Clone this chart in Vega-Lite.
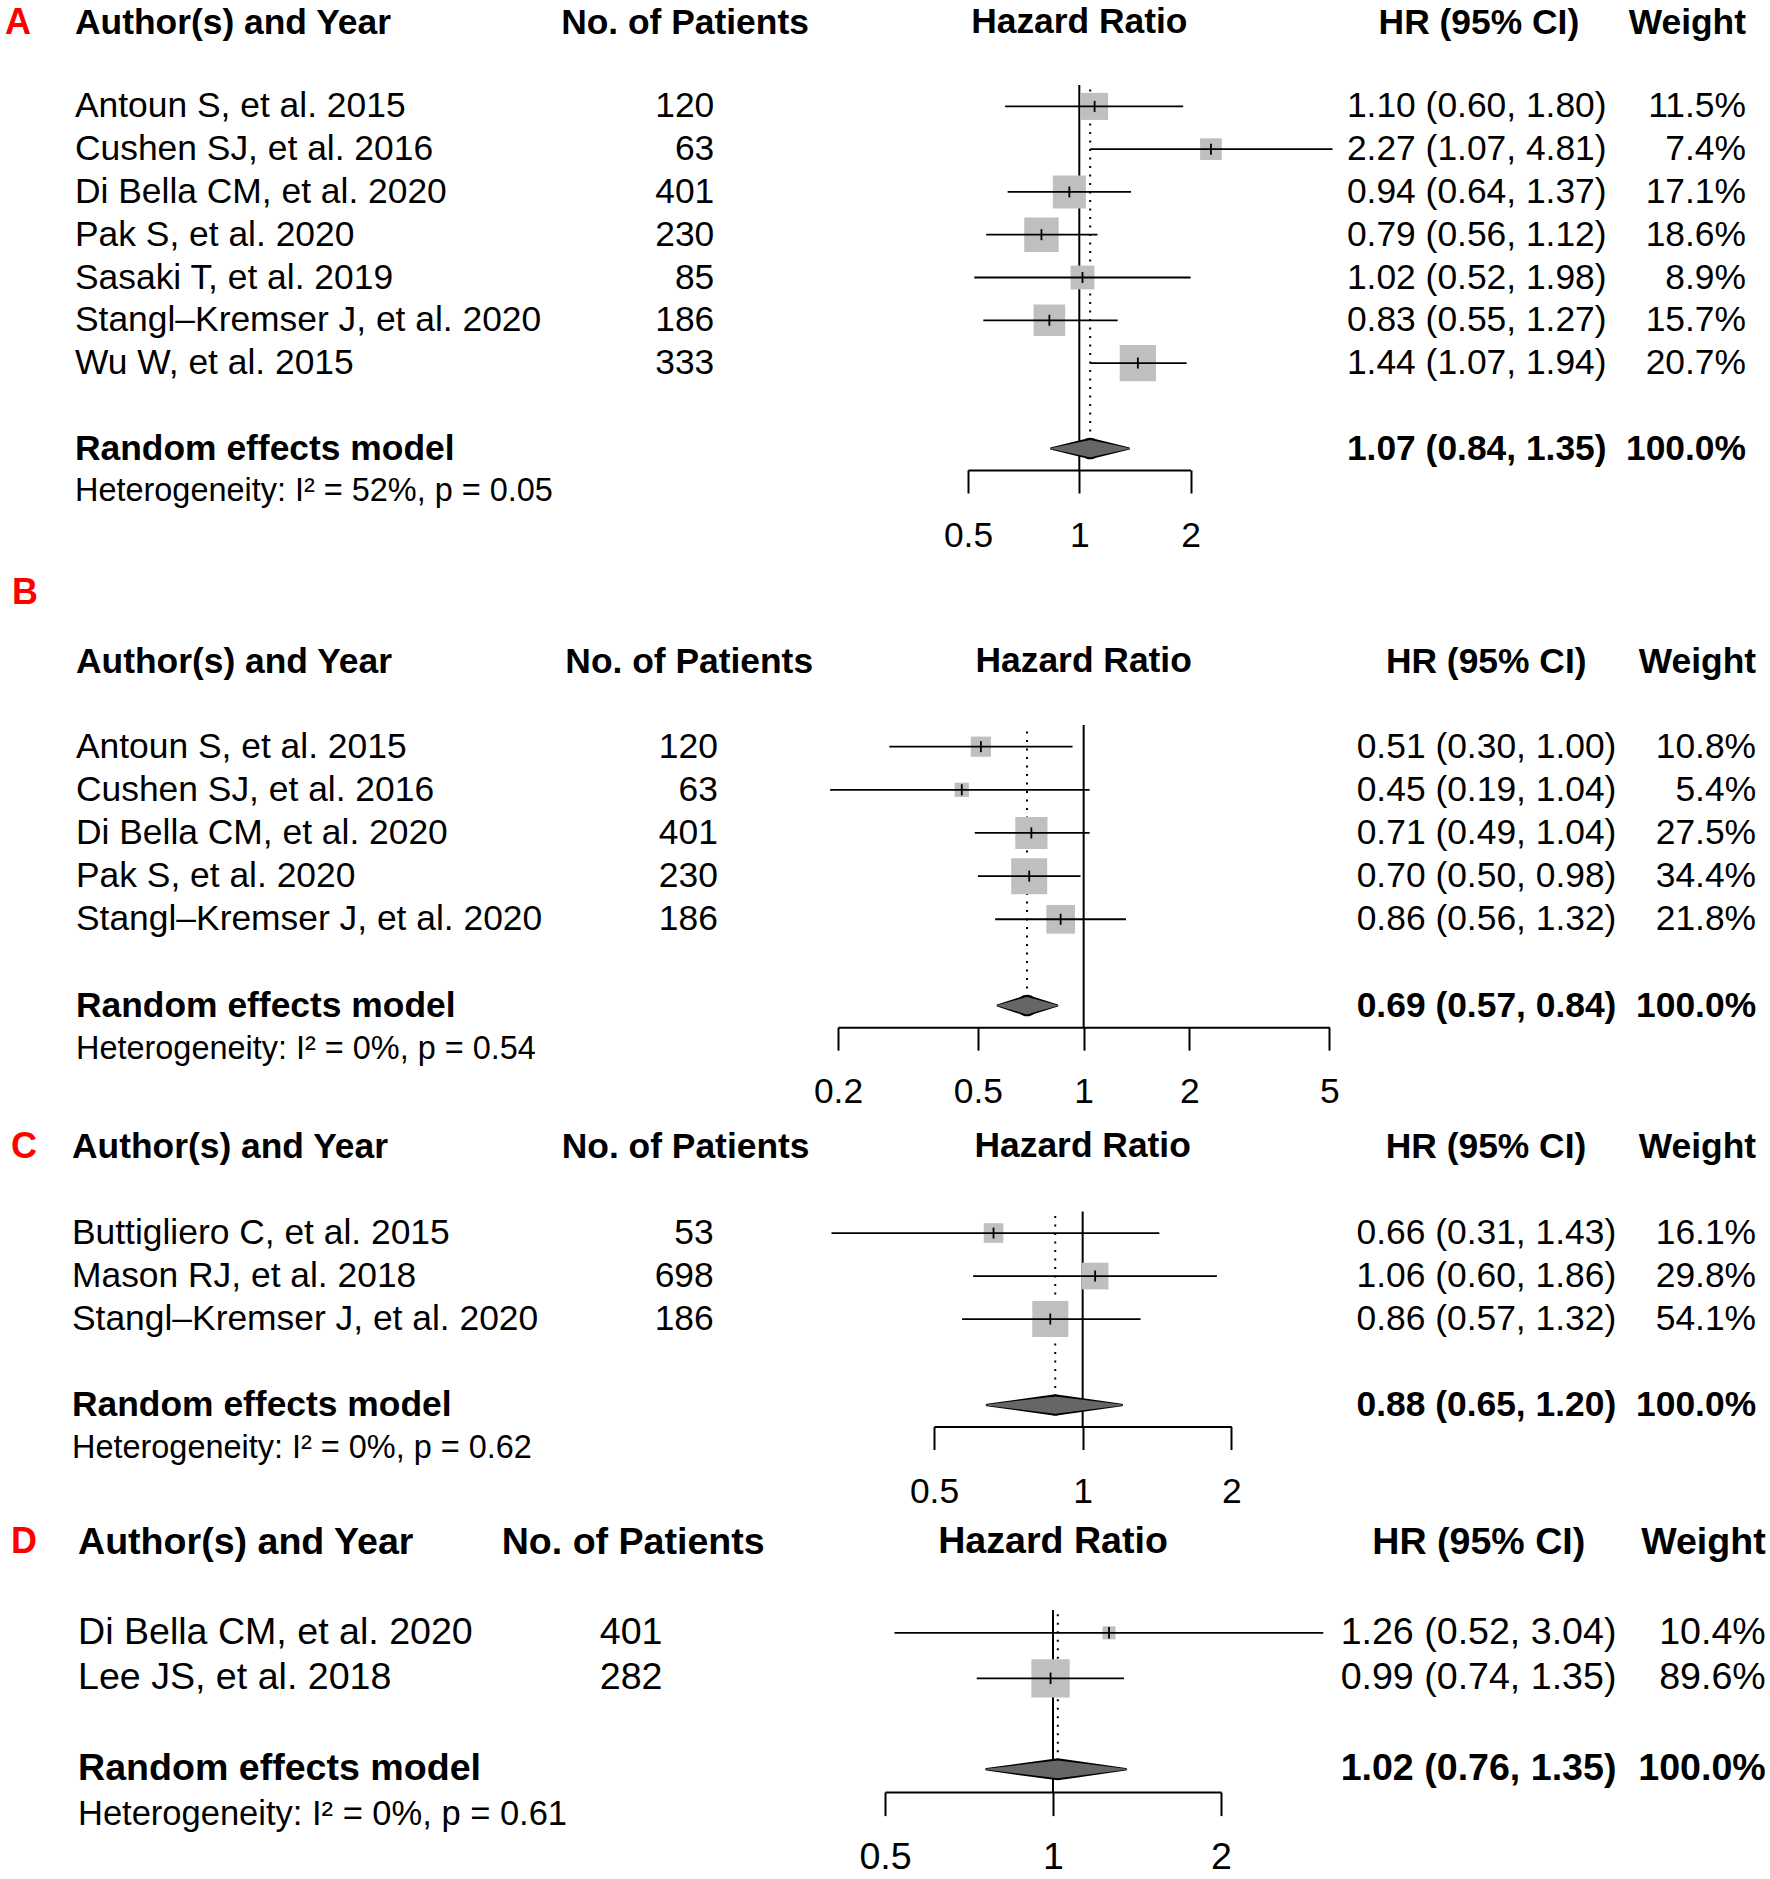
{
"$schema": "https://vega.github.io/schema/vega-lite/v6.json",
"padding": {"left": 0, "top": 4, "right": 0, "bottom": 0},
"background": "white",
"config": {"view": {"stroke": null}, "font": "Liberation Sans", "title": {"font": "Liberation Sans", "fontWeight": "bold", "color": "black", "frame": "group"}, "text": {"font": "Liberation Sans", "color": "black"}},
"datasets": {
"A": [
{"label":"Antoun S, et al. 2015","type":"study","n":120,"hr":1.10,"lower":0.63,"upper":1.91,"ci":"1.10 (0.60, 1.80)","weight":0.115},
{"label":"Cushen SJ, et al. 2016","type":"study","n":63,"hr":2.27,"lower":1.07,"upper":4.84,"ci":"2.27 (1.07, 4.81)","weight":0.074},
{"label":"Di Bella CM, et al. 2020","type":"study","n":401,"hr":0.94,"lower":0.64,"upper":1.38,"ci":"0.94 (0.64, 1.37)","weight":0.171},
{"label":"Pak S, et al. 2020","type":"study","n":230,"hr":0.79,"lower":0.56,"upper":1.12,"ci":"0.79 (0.56, 1.12)","weight":0.186},
{"label":"Sasaki T, et al. 2019","type":"study","n":85,"hr":1.02,"lower":0.52,"upper":2.0,"ci":"1.02 (0.52, 1.98)","weight":0.089},
{"label":"Stangl–Kremser J, et al. 2020","type":"study","n":186,"hr":0.83,"lower":0.55,"upper":1.27,"ci":"0.83 (0.55, 1.27)","weight":0.157},
{"label":"Wu W, et al. 2015","type":"study","n":333,"hr":1.44,"lower":1.07,"upper":1.95,"ci":"1.44 (1.07, 1.94)","weight":0.207},
{"label":"Random effects model","type":"model","hr":1.07,"lower":0.84,"upper":1.36,"ci":"1.07 (0.84, 1.35)","weight":1},
{"label":"Heterogeneity: I² = 52%, p = 0.05","type":"het"}
],
"B": [
{"label":"Antoun S, et al. 2015","type":"study","n":120,"hr":0.51,"lower":0.28,"upper":0.93,"ci":"0.51 (0.30, 1.00)","weight":0.108},
{"label":"Cushen SJ, et al. 2016","type":"study","n":63,"hr":0.45,"lower":0.19,"upper":1.04,"ci":"0.45 (0.19, 1.04)","weight":0.054},
{"label":"Di Bella CM, et al. 2020","type":"study","n":401,"hr":0.71,"lower":0.49,"upper":1.04,"ci":"0.71 (0.49, 1.04)","weight":0.275},
{"label":"Pak S, et al. 2020","type":"study","n":230,"hr":0.70,"lower":0.50,"upper":0.98,"ci":"0.70 (0.50, 0.98)","weight":0.344},
{"label":"Stangl–Kremser J, et al. 2020","type":"study","n":186,"hr":0.86,"lower":0.56,"upper":1.32,"ci":"0.86 (0.56, 1.32)","weight":0.218},
{"label":"Random effects model","type":"model","hr":0.69,"lower":0.57,"upper":0.84,"ci":"0.69 (0.57, 0.84)","weight":1},
{"label":"Heterogeneity: I² = 0%, p = 0.54","type":"het"}
],
"C": [
{"label":"Buttigliero C, et al. 2015","type":"study","n":53,"hr":0.66,"lower":0.31,"upper":1.43,"ci":"0.66 (0.31, 1.43)","weight":0.161},
{"label":"Mason RJ, et al. 2018","type":"study","n":698,"hr":1.06,"lower":0.60,"upper":1.87,"ci":"1.06 (0.60, 1.86)","weight":0.298},
{"label":"Stangl–Kremser J, et al. 2020","type":"study","n":186,"hr":0.86,"lower":0.57,"upper":1.31,"ci":"0.86 (0.57, 1.32)","weight":0.541},
{"label":"Random effects model","type":"model","hr":0.88,"lower":0.64,"upper":1.20,"ci":"0.88 (0.65, 1.20)","weight":1},
{"label":"Heterogeneity: I² = 0%, p = 0.62","type":"het"}
],
"D": [
{"label":"Di Bella CM, et al. 2020","type":"study","n":401,"hr":1.26,"lower":0.52,"upper":3.05,"ci":"1.26 (0.52, 3.04)","weight":0.104},
{"label":"Lee JS, et al. 2018","type":"study","n":282,"hr":0.99,"lower":0.73,"upper":1.34,"ci":"0.99 (0.74, 1.35)","weight":0.896},
{"label":"Random effects model","type":"model","hr":1.02,"lower":0.76,"upper":1.35,"ci":"1.02 (0.76, 1.35)","weight":1},
{"label":"Heterogeneity: I² = 0%, p = 0.61","type":"het"}
]
},
"vconcat": [
{
"hconcat": [
{"width": 74.3, "height": 427.8, "title": {"text": "A", "anchor": "start", "dx": 5, "offset": 43.2, "fontSize": 36, "color": "#ff0000"}, "data": {"values": []}, "mark": "text"},
{"width": 385.4, "height": 427.8, "title": {"text": "Author(s) and Year", "anchor": "start", "offset": 43.5, "fontSize": 35.4}, "data": {"name": "A"},
 "encoding": {"y": {"field": "label", "type": "nominal", "axis": null, "scale": {"type": "point", "padding": 0.5, "domain": ["Antoun S, et al. 2015","Cushen SJ, et al. 2016","Di Bella CM, et al. 2020","Pak S, et al. 2020","Sasaki T, et al. 2019","Stangl–Kremser J, et al. 2020","Wu W, et al. 2015"," ","Random effects model","Heterogeneity: I² = 52%, p = 0.05"]}}, "text": {"field": "label", "type": "nominal"}},
 "layer": [
  {"transform": [{"filter": "datum.type === 'study'"}], "mark": {"type": "text", "align": "left", "baseline": "middle", "x": 0, "fontSize": 35.4, "color": "black"}},
  {"transform": [{"filter": "datum.type === 'model'"}], "mark": {"type": "text", "align": "left", "baseline": "middle", "x": 0, "fontSize": 35.4, "fontWeight": "bold", "color": "black"}},
  {"transform": [{"filter": "datum.type === 'het'"}], "mark": {"type": "text", "align": "left", "baseline": "middle", "x": 0, "fontSize": 32.45, "color": "black"}}
 ]},
{"width": 506.6, "height": 427.8, "title": {"text": "No. of Patients", "anchor": "middle", "dx": -29.3, "offset": 43.5, "fontSize": 35.4}, "data": {"name": "A"},
 "transform": [{"filter": "datum.type === 'study'"}],
 "mark": {"type": "text", "align": "right", "baseline": "middle", "fontSize": 35.4, "color": "black"},
 "encoding": {"y": {"field": "label", "type": "nominal", "axis": null, "scale": {"type": "point", "padding": 0.5, "domain": ["Antoun S, et al. 2015","Cushen SJ, et al. 2016","Di Bella CM, et al. 2020","Pak S, et al. 2020","Sasaki T, et al. 2019","Stangl–Kremser J, et al. 2020","Wu W, et al. 2015"," ","Random effects model","Heterogeneity: I² = 52%, p = 0.05"]}}, "text": {"field": "n", "type": "quantitative"}}},
{"width": 222.6, "height": 385, "title": {"text": "Hazard Ratio", "anchor": "middle", "offset": 43.5, "fontSize": 35.4}, "data": {"name": "A"},
 "encoding": {"y": {"field": "label", "type": "nominal", "axis": null, "scale": {"type": "point", "padding": 0.5, "domain": ["Antoun S, et al. 2015","Cushen SJ, et al. 2016","Di Bella CM, et al. 2020","Pak S, et al. 2020","Sasaki T, et al. 2019","Stangl–Kremser J, et al. 2020","Wu W, et al. 2015"," ","Random effects model"]}}},
 "layer": [
  {"transform": [{"filter": "datum.type === 'model'"}], "mark": {"type": "rule", "color": "black", "strokeWidth": 2},
   "encoding": {"y": null, "x": {"datum": 1, "type": "quantitative", "scale": {"type": "log", "base": 2, "domain": [0.5, 2], "nice": false, "zero": false},
     "axis": {"values": [0.5, 1, 2], "format": "~g", "title": null, "grid": false, "domainColor": "black", "domainWidth": 2, "tickColor": "black", "tickWidth": 2, "tickSize": 23, "labelFont": "Liberation Sans", "labelFontSize": 35.4, "labelColor": "black", "labelPadding": 25, "labelFlush": false, "labelOverlap": false, "labelBound": false}}}},
  {"transform": [{"filter": "datum.type === 'model'"}], "mark": {"type": "rule", "color": "black", "strokeWidth": 2, "strokeDash": [2, 6.5]},
   "encoding": {"x": {"field": "hr", "type": "quantitative"}, "y2": {"value": 0}}},
  {"transform": [{"filter": "datum.type === 'study'"}], "mark": {"type": "point", "shape": "square", "filled": true, "color": "#bfbfbf", "opacity": 1},
   "encoding": {"x": {"field": "hr", "type": "quantitative"}, "size": {"field": "weight", "type": "quantitative", "scale": {"domain": [0, 0.207], "range": [0, 1318]}, "legend": null}}},
  {"transform": [{"filter": "datum.type === 'study'"}], "mark": {"type": "rule", "color": "black", "strokeWidth": 1.8},
   "encoding": {"x": {"field": "lower", "type": "quantitative"}, "x2": {"field": "upper"}}},
  {"transform": [{"filter": "datum.type === 'study'"}], "mark": {"type": "tick", "orient": "vertical", "color": "black", "size": 11, "thickness": 1.8, "opacity": 1},
   "encoding": {"x": {"field": "hr", "type": "quantitative"}}},
  {"transform": [{"filter": "datum.type === 'model'"}, {"fold": ["lower", "hr", "upper"]}], "mark": {"type": "trail", "color": "black"},
   "encoding": {"x": {"field": "value", "type": "quantitative"}, "order": {"field": "value", "type": "quantitative"}, "size": {"condition": {"test": "datum.key === 'hr'", "value": 21.5}, "value": 2.5}}},
  {"transform": [{"filter": "datum.type === 'model'"}, {"fold": ["lower", "hr", "upper"]}], "mark": {"type": "trail", "color": "#666666"},
   "encoding": {"x": {"field": "value", "type": "quantitative"}, "order": {"field": "value", "type": "quantitative"}, "size": {"condition": {"test": "datum.key === 'hr'", "value": 17.3}, "value": 0}}}
 ]},
{"width": 415.6, "height": 427.8, "title": {"text": "HR (95% CI)", "anchor": "end", "dx": -27.4, "offset": 43.5, "fontSize": 35.4}, "data": {"name": "A"},
 "encoding": {"y": {"field": "label", "type": "nominal", "axis": null, "scale": {"type": "point", "padding": 0.5, "domain": ["Antoun S, et al. 2015","Cushen SJ, et al. 2016","Di Bella CM, et al. 2020","Pak S, et al. 2020","Sasaki T, et al. 2019","Stangl–Kremser J, et al. 2020","Wu W, et al. 2015"," ","Random effects model","Heterogeneity: I² = 52%, p = 0.05"]}}, "text": {"field": "ci", "type": "nominal"}},
 "layer": [
  {"transform": [{"filter": "datum.type === 'study'"}], "mark": {"type": "text", "align": "right", "baseline": "middle", "x": "width", "fontSize": 35.4, "color": "black"}},
  {"transform": [{"filter": "datum.type === 'model'"}], "mark": {"type": "text", "align": "right", "baseline": "middle", "x": "width", "fontSize": 35.4, "fontWeight": "bold", "color": "black"}}
 ]},
{"width": 139, "height": 427.8, "title": {"text": "Weight", "anchor": "end", "offset": 43.5, "fontSize": 35.4}, "data": {"name": "A"},
 "encoding": {"y": {"field": "label", "type": "nominal", "axis": null, "scale": {"type": "point", "padding": 0.5, "domain": ["Antoun S, et al. 2015","Cushen SJ, et al. 2016","Di Bella CM, et al. 2020","Pak S, et al. 2020","Sasaki T, et al. 2019","Stangl–Kremser J, et al. 2020","Wu W, et al. 2015"," ","Random effects model","Heterogeneity: I² = 52%, p = 0.05"]}}, "text": {"field": "weight", "type": "quantitative", "format": ".1%"}},
 "layer": [
  {"transform": [{"filter": "datum.type === 'study'"}], "mark": {"type": "text", "align": "right", "baseline": "middle", "x": "width", "fontSize": 35.4, "color": "black"}},
  {"transform": [{"filter": "datum.type === 'model'"}], "mark": {"type": "text", "align": "right", "baseline": "middle", "x": "width", "fontSize": 35.4, "fontWeight": "bold", "color": "black"}}
 ]}
],
"spacing": 0, "bounds": "flush"
},
{
"vconcat": [
{
"hconcat": [
{"width": 75.5, "height": 345.2, "title": {"text": "B", "anchor": "start", "dx": 12, "offset": 113.5, "fontSize": 36, "color": "#ff0000"}, "data": {"values": []}, "mark": "text"},
{"width": 521.2, "height": 345.2, "title": {"text": "Author(s) and Year", "anchor": "start", "offset": 44.6, "fontSize": 35.4}, "data": {"name": "B"},
 "encoding": {"y": {"field": "label", "type": "nominal", "axis": null, "scale": {"type": "point", "padding": 0.5, "domain": ["Antoun S, et al. 2015","Cushen SJ, et al. 2016","Di Bella CM, et al. 2020","Pak S, et al. 2020","Stangl–Kremser J, et al. 2020"," ","Random effects model","Heterogeneity: I² = 0%, p = 0.54"]}}, "text": {"field": "label", "type": "nominal"}},
 "layer": [
  {"transform": [{"filter": "datum.type === 'study'"}], "mark": {"type": "text", "align": "left", "baseline": "middle", "x": 0, "fontSize": 35.4, "color": "black"}},
  {"transform": [{"filter": "datum.type === 'model'"}], "mark": {"type": "text", "align": "left", "baseline": "middle", "x": 0, "fontSize": 35.4, "fontWeight": "bold", "color": "black"}},
  {"transform": [{"filter": "datum.type === 'het'"}], "mark": {"type": "text", "align": "left", "baseline": "middle", "x": 0, "fontSize": 32.45, "color": "black"}}
 ]},
{"width": 239.8, "height": 345.2, "title": {"text": "No. of Patients", "anchor": "middle", "dx": -28.7, "offset": 44.6, "fontSize": 35.4}, "data": {"name": "B"},
 "transform": [{"filter": "datum.type === 'study'"}],
 "mark": {"type": "text", "align": "right", "baseline": "middle", "fontSize": 35.4, "color": "black"},
 "encoding": {"y": {"field": "label", "type": "nominal", "axis": null, "scale": {"type": "point", "padding": 0.5, "domain": ["Antoun S, et al. 2015","Cushen SJ, et al. 2016","Di Bella CM, et al. 2020","Pak S, et al. 2020","Stangl–Kremser J, et al. 2020"," ","Random effects model","Heterogeneity: I² = 0%, p = 0.54"]}}, "text": {"field": "n", "type": "quantitative"}}},
{"width": 491.3, "height": 302.05, "title": {"text": "Hazard Ratio", "anchor": "middle", "offset": 44.6, "fontSize": 35.4}, "data": {"name": "B"},
 "encoding": {"y": {"field": "label", "type": "nominal", "axis": null, "scale": {"type": "point", "padding": 0.5, "domain": ["Antoun S, et al. 2015","Cushen SJ, et al. 2016","Di Bella CM, et al. 2020","Pak S, et al. 2020","Stangl–Kremser J, et al. 2020"," ","Random effects model"]}}},
 "layer": [
  {"transform": [{"filter": "datum.type === 'model'"}], "mark": {"type": "rule", "color": "black", "strokeWidth": 2},
   "encoding": {"y": null, "x": {"datum": 1, "type": "quantitative", "scale": {"type": "log", "base": 2, "domain": [0.2, 5], "nice": false, "zero": false},
     "axis": {"values": [0.2, 0.5, 1, 2, 5], "format": "~g", "title": null, "grid": false, "domainColor": "black", "domainWidth": 2, "tickColor": "black", "tickWidth": 2, "tickSize": 23, "labelFont": "Liberation Sans", "labelFontSize": 35.4, "labelColor": "black", "labelPadding": 24, "labelFlush": false, "labelOverlap": false, "labelBound": false}}}},
  {"transform": [{"filter": "datum.type === 'model'"}], "mark": {"type": "rule", "color": "black", "strokeWidth": 2, "strokeDash": [2, 6.5]},
   "encoding": {"x": {"field": "hr", "type": "quantitative"}, "y2": {"value": 0}}},
  {"transform": [{"filter": "datum.type === 'study'"}], "mark": {"type": "point", "shape": "square", "filled": true, "color": "#bfbfbf", "opacity": 1},
   "encoding": {"x": {"field": "hr", "type": "quantitative"}, "size": {"field": "weight", "type": "quantitative", "scale": {"domain": [0, 0.344], "range": [0, 1296]}, "legend": null}}},
  {"transform": [{"filter": "datum.type === 'study'"}], "mark": {"type": "rule", "color": "black", "strokeWidth": 1.8},
   "encoding": {"x": {"field": "lower", "type": "quantitative"}, "x2": {"field": "upper"}}},
  {"transform": [{"filter": "datum.type === 'study'"}], "mark": {"type": "tick", "orient": "vertical", "color": "black", "size": 11, "thickness": 1.8, "opacity": 1},
   "encoding": {"x": {"field": "hr", "type": "quantitative"}}},
  {"transform": [{"filter": "datum.type === 'model'"}, {"fold": ["lower", "hr", "upper"]}], "mark": {"type": "trail", "color": "black"},
   "encoding": {"x": {"field": "value", "type": "quantitative"}, "order": {"field": "value", "type": "quantitative"}, "size": {"condition": {"test": "datum.key === 'hr'", "value": 21.5}, "value": 2.5}}},
  {"transform": [{"filter": "datum.type === 'model'"}, {"fold": ["lower", "hr", "upper"]}], "mark": {"type": "trail", "color": "#666666"},
   "encoding": {"x": {"field": "value", "type": "quantitative"}, "order": {"field": "value", "type": "quantitative"}, "size": {"condition": {"test": "datum.key === 'hr'", "value": 17.3}, "value": 0}}}
 ]},
{"width": 286.4, "height": 345.2, "title": {"text": "HR (95% CI)", "anchor": "end", "dx": -29.9, "offset": 44.6, "fontSize": 35.4}, "data": {"name": "B"},
 "encoding": {"y": {"field": "label", "type": "nominal", "axis": null, "scale": {"type": "point", "padding": 0.5, "domain": ["Antoun S, et al. 2015","Cushen SJ, et al. 2016","Di Bella CM, et al. 2020","Pak S, et al. 2020","Stangl–Kremser J, et al. 2020"," ","Random effects model","Heterogeneity: I² = 0%, p = 0.54"]}}, "text": {"field": "ci", "type": "nominal"}},
 "layer": [
  {"transform": [{"filter": "datum.type === 'study'"}], "mark": {"type": "text", "align": "right", "baseline": "middle", "x": "width", "fontSize": 35.4, "color": "black"}},
  {"transform": [{"filter": "datum.type === 'model'"}], "mark": {"type": "text", "align": "right", "baseline": "middle", "x": "width", "fontSize": 35.4, "fontWeight": "bold", "color": "black"}}
 ]},
{"width": 139.1, "height": 345.2, "title": {"text": "Weight", "anchor": "end", "offset": 44.6, "fontSize": 35.4}, "data": {"name": "B"},
 "encoding": {"y": {"field": "label", "type": "nominal", "axis": null, "scale": {"type": "point", "padding": 0.5, "domain": ["Antoun S, et al. 2015","Cushen SJ, et al. 2016","Di Bella CM, et al. 2020","Pak S, et al. 2020","Stangl–Kremser J, et al. 2020"," ","Random effects model","Heterogeneity: I² = 0%, p = 0.54"]}}, "text": {"field": "weight", "type": "quantitative", "format": ".1%"}},
 "layer": [
  {"transform": [{"filter": "datum.type === 'study'"}], "mark": {"type": "text", "align": "right", "baseline": "middle", "x": "width", "fontSize": 35.4, "color": "black"}},
  {"transform": [{"filter": "datum.type === 'model'"}], "mark": {"type": "text", "align": "right", "baseline": "middle", "x": "width", "fontSize": 35.4, "fontWeight": "bold", "color": "black"}}
 ]}
],
"spacing": 0, "bounds": "flush"
},
{
"vconcat": [
{
"hconcat": [
{"width": 71.9, "height": 258, "title": {"text": "C", "anchor": "start", "dx": 11, "offset": 45.8, "fontSize": 36, "color": "#ff0000"}, "data": {"values": []}, "mark": "text"},
{"width": 421.4, "height": 258, "title": {"text": "Author(s) and Year", "anchor": "start", "offset": 46.1, "fontSize": 35.4}, "data": {"name": "C"},
 "encoding": {"y": {"field": "label", "type": "nominal", "axis": null, "scale": {"type": "point", "padding": 0.5, "domain": ["Buttigliero C, et al. 2015","Mason RJ, et al. 2018","Stangl–Kremser J, et al. 2020"," ","Random effects model","Heterogeneity: I² = 0%, p = 0.62"]}}, "text": {"field": "label", "type": "nominal"}},
 "layer": [
  {"transform": [{"filter": "datum.type === 'study'"}], "mark": {"type": "text", "align": "left", "baseline": "middle", "x": 0, "fontSize": 35.4, "color": "black"}},
  {"transform": [{"filter": "datum.type === 'model'"}], "mark": {"type": "text", "align": "left", "baseline": "middle", "x": 0, "fontSize": 35.4, "fontWeight": "bold", "color": "black"}},
  {"transform": [{"filter": "datum.type === 'het'"}], "mark": {"type": "text", "align": "left", "baseline": "middle", "x": 0, "fontSize": 32.45, "color": "black"}}
 ]},
{"width": 439.4, "height": 258, "title": {"text": "No. of Patients", "anchor": "middle", "dx": -28.1, "offset": 46.1, "fontSize": 35.4}, "data": {"name": "C"},
 "transform": [{"filter": "datum.type === 'study'"}],
 "mark": {"type": "text", "align": "right", "baseline": "middle", "fontSize": 35.4, "color": "black"},
 "encoding": {"y": {"field": "label", "type": "nominal", "axis": null, "scale": {"type": "point", "padding": 0.5, "domain": ["Buttigliero C, et al. 2015","Mason RJ, et al. 2018","Stangl–Kremser J, et al. 2020"," ","Random effects model","Heterogeneity: I² = 0%, p = 0.62"]}}, "text": {"field": "n", "type": "quantitative"}}},
{"width": 297.3, "height": 215, "title": {"text": "Hazard Ratio", "anchor": "middle", "offset": 46.1, "fontSize": 35.4}, "data": {"name": "C"},
 "encoding": {"y": {"field": "label", "type": "nominal", "axis": null, "scale": {"type": "point", "padding": 0.5, "domain": ["Buttigliero C, et al. 2015","Mason RJ, et al. 2018","Stangl–Kremser J, et al. 2020"," ","Random effects model"]}}},
 "layer": [
  {"transform": [{"filter": "datum.type === 'model'"}], "mark": {"type": "rule", "color": "black", "strokeWidth": 2},
   "encoding": {"y": null, "x": {"datum": 1, "type": "quantitative", "scale": {"type": "log", "base": 2, "domain": [0.5, 2], "nice": false, "zero": false},
     "axis": {"values": [0.5, 1, 2], "format": "~g", "title": null, "grid": false, "domainColor": "black", "domainWidth": 2, "tickColor": "black", "tickWidth": 2, "tickSize": 23, "labelFont": "Liberation Sans", "labelFontSize": 35.4, "labelColor": "black", "labelPadding": 25, "labelFlush": false, "labelOverlap": false, "labelBound": false}}}},
  {"transform": [{"filter": "datum.type === 'model'"}], "mark": {"type": "rule", "color": "black", "strokeWidth": 2, "strokeDash": [2, 6.5]},
   "encoding": {"x": {"field": "hr", "type": "quantitative"}, "y2": {"value": 0}}},
  {"transform": [{"filter": "datum.type === 'study'"}], "mark": {"type": "point", "shape": "square", "filled": true, "color": "#bfbfbf", "opacity": 1},
   "encoding": {"x": {"field": "hr", "type": "quantitative"}, "size": {"field": "weight", "type": "quantitative", "scale": {"domain": [0, 0.541], "range": [0, 1296]}, "legend": null}}},
  {"transform": [{"filter": "datum.type === 'study'"}], "mark": {"type": "rule", "color": "black", "strokeWidth": 1.8},
   "encoding": {"x": {"field": "lower", "type": "quantitative"}, "x2": {"field": "upper"}}},
  {"transform": [{"filter": "datum.type === 'study'"}], "mark": {"type": "tick", "orient": "vertical", "color": "black", "size": 11, "thickness": 1.8, "opacity": 1},
   "encoding": {"x": {"field": "hr", "type": "quantitative"}}},
  {"transform": [{"filter": "datum.type === 'model'"}, {"fold": ["lower", "hr", "upper"]}], "mark": {"type": "trail", "color": "black"},
   "encoding": {"x": {"field": "value", "type": "quantitative"}, "order": {"field": "value", "type": "quantitative"}, "size": {"condition": {"test": "datum.key === 'hr'", "value": 21.5}, "value": 2.5}}},
  {"transform": [{"filter": "datum.type === 'model'"}, {"fold": ["lower", "hr", "upper"]}], "mark": {"type": "trail", "color": "#666666"},
   "encoding": {"x": {"field": "value", "type": "quantitative"}, "order": {"field": "value", "type": "quantitative"}, "size": {"condition": {"test": "datum.key === 'hr'", "value": 17.3}, "value": 0}}}
 ]},
{"width": 384.2, "height": 258, "title": {"text": "HR (95% CI)", "anchor": "end", "dx": -29.9, "offset": 46.1, "fontSize": 35.4}, "data": {"name": "C"},
 "encoding": {"y": {"field": "label", "type": "nominal", "axis": null, "scale": {"type": "point", "padding": 0.5, "domain": ["Buttigliero C, et al. 2015","Mason RJ, et al. 2018","Stangl–Kremser J, et al. 2020"," ","Random effects model","Heterogeneity: I² = 0%, p = 0.62"]}}, "text": {"field": "ci", "type": "nominal"}},
 "layer": [
  {"transform": [{"filter": "datum.type === 'study'"}], "mark": {"type": "text", "align": "right", "baseline": "middle", "x": "width", "fontSize": 35.4, "color": "black"}},
  {"transform": [{"filter": "datum.type === 'model'"}], "mark": {"type": "text", "align": "right", "baseline": "middle", "x": "width", "fontSize": 35.4, "fontWeight": "bold", "color": "black"}}
 ]},
{"width": 139.1, "height": 258, "title": {"text": "Weight", "anchor": "end", "offset": 46.1, "fontSize": 35.4}, "data": {"name": "C"},
 "encoding": {"y": {"field": "label", "type": "nominal", "axis": null, "scale": {"type": "point", "padding": 0.5, "domain": ["Buttigliero C, et al. 2015","Mason RJ, et al. 2018","Stangl–Kremser J, et al. 2020"," ","Random effects model","Heterogeneity: I² = 0%, p = 0.62"]}}, "text": {"field": "weight", "type": "quantitative", "format": ".1%"}},
 "layer": [
  {"transform": [{"filter": "datum.type === 'study'"}], "mark": {"type": "text", "align": "right", "baseline": "middle", "x": "width", "fontSize": 35.4, "color": "black"}},
  {"transform": [{"filter": "datum.type === 'model'"}], "mark": {"type": "text", "align": "right", "baseline": "middle", "x": "width", "fontSize": 35.4, "fontWeight": "bold", "color": "black"}}
 ]}
],
"spacing": 0, "bounds": "flush"
},
{
"hconcat": [
{"width": 77.9, "height": 227.5, "title": {"text": "D", "anchor": "start", "dx": 11, "offset": 49.1, "fontSize": 36, "color": "#ff0000"}, "data": {"values": []}, "mark": "text"},
{"width": 361.1, "height": 227.5, "title": {"text": "Author(s) and Year", "anchor": "start", "offset": 48.2, "fontSize": 37.6}, "data": {"name": "D"},
 "encoding": {"y": {"field": "label", "type": "nominal", "axis": null, "scale": {"type": "point", "padding": 0.5, "domain": ["Di Bella CM, et al. 2020","Lee JS, et al. 2018"," ","Random effects model","Heterogeneity: I² = 0%, p = 0.61"]}}, "text": {"field": "label", "type": "nominal"}},
 "layer": [
  {"transform": [{"filter": "datum.type === 'study'"}], "mark": {"type": "text", "align": "left", "baseline": "middle", "x": 0, "fontSize": 37.6, "color": "black"}},
  {"transform": [{"filter": "datum.type === 'model'"}], "mark": {"type": "text", "align": "left", "baseline": "middle", "x": 0, "fontSize": 37.6, "fontWeight": "bold", "color": "black"}},
  {"transform": [{"filter": "datum.type === 'het'"}], "mark": {"type": "text", "align": "left", "baseline": "middle", "x": 0, "fontSize": 34.5, "color": "black"}}
 ]},
{"width": 445, "height": 227.5, "title": {"text": "No. of Patients", "anchor": "middle", "dx": -29.3, "offset": 48.2, "fontSize": 37.6}, "data": {"name": "D"},
 "transform": [{"filter": "datum.type === 'study'"}],
 "mark": {"type": "text", "align": "right", "baseline": "middle", "fontSize": 37.6, "color": "black"},
 "encoding": {"y": {"field": "label", "type": "nominal", "axis": null, "scale": {"type": "point", "padding": 0.5, "domain": ["Di Bella CM, et al. 2020","Lee JS, et al. 2018"," ","Random effects model","Heterogeneity: I² = 0%, p = 0.61"]}}, "text": {"field": "n", "type": "quantitative"}}},
{"width": 336, "height": 182, "title": {"text": "Hazard Ratio", "anchor": "middle", "offset": 48.2, "fontSize": 37.6}, "data": {"name": "D"},
 "encoding": {"y": {"field": "label", "type": "nominal", "axis": null, "scale": {"type": "point", "padding": 0.5, "domain": ["Di Bella CM, et al. 2020","Lee JS, et al. 2018"," ","Random effects model"]}}},
 "layer": [
  {"transform": [{"filter": "datum.type === 'model'"}], "mark": {"type": "rule", "color": "black", "strokeWidth": 2},
   "encoding": {"y": null, "x": {"datum": 1, "type": "quantitative", "scale": {"type": "log", "base": 2, "domain": [0.5, 2], "nice": false, "zero": false},
     "axis": {"values": [0.5, 1, 2], "format": "~g", "title": null, "grid": false, "domainColor": "black", "domainWidth": 2, "tickColor": "black", "tickWidth": 2, "tickSize": 23.5, "labelFont": "Liberation Sans", "labelFontSize": 37.6, "labelColor": "black", "labelPadding": 23, "labelFlush": false, "labelOverlap": false, "labelBound": false}}}},
  {"transform": [{"filter": "datum.type === 'model'"}], "mark": {"type": "rule", "color": "black", "strokeWidth": 2, "strokeDash": [2, 6.5]},
   "encoding": {"x": {"field": "hr", "type": "quantitative"}, "y2": {"value": 0}}},
  {"transform": [{"filter": "datum.type === 'study'"}], "mark": {"type": "point", "shape": "square", "filled": true, "color": "#bfbfbf", "opacity": 1},
   "encoding": {"x": {"field": "hr", "type": "quantitative"}, "size": {"field": "weight", "type": "quantitative", "scale": {"domain": [0, 0.896], "range": [0, 1467]}, "legend": null}}},
  {"transform": [{"filter": "datum.type === 'study'"}], "mark": {"type": "rule", "color": "black", "strokeWidth": 1.8},
   "encoding": {"x": {"field": "lower", "type": "quantitative"}, "x2": {"field": "upper"}}},
  {"transform": [{"filter": "datum.type === 'study'"}], "mark": {"type": "tick", "orient": "vertical", "color": "black", "size": 11.5, "thickness": 1.8, "opacity": 1},
   "encoding": {"x": {"field": "hr", "type": "quantitative"}}},
  {"transform": [{"filter": "datum.type === 'model'"}, {"fold": ["lower", "hr", "upper"]}], "mark": {"type": "trail", "color": "black"},
   "encoding": {"x": {"field": "value", "type": "quantitative"}, "order": {"field": "value", "type": "quantitative"}, "size": {"condition": {"test": "datum.key === 'hr'", "value": 22}, "value": 2.5}}},
  {"transform": [{"filter": "datum.type === 'model'"}, {"fold": ["lower", "hr", "upper"]}], "mark": {"type": "trail", "color": "#666666"},
   "encoding": {"x": {"field": "value", "type": "quantitative"}, "order": {"field": "value", "type": "quantitative"}, "size": {"condition": {"test": "datum.key === 'hr'", "value": 17.8}, "value": 0}}}
 ]},
{"width": 395.4, "height": 227.5, "title": {"text": "HR (95% CI)", "anchor": "end", "dx": -31.1, "offset": 48.2, "fontSize": 37.6}, "data": {"name": "D"},
 "encoding": {"y": {"field": "label", "type": "nominal", "axis": null, "scale": {"type": "point", "padding": 0.5, "domain": ["Di Bella CM, et al. 2020","Lee JS, et al. 2018"," ","Random effects model","Heterogeneity: I² = 0%, p = 0.61"]}}, "text": {"field": "ci", "type": "nominal"}},
 "layer": [
  {"transform": [{"filter": "datum.type === 'study'"}], "mark": {"type": "text", "align": "right", "baseline": "middle", "x": "width", "fontSize": 37.6, "color": "black"}},
  {"transform": [{"filter": "datum.type === 'model'"}], "mark": {"type": "text", "align": "right", "baseline": "middle", "x": "width", "fontSize": 37.6, "fontWeight": "bold", "color": "black"}}
 ]},
{"width": 148.7, "height": 227.5, "title": {"text": "Weight", "anchor": "end", "offset": 48.2, "fontSize": 37.6}, "data": {"name": "D"},
 "encoding": {"y": {"field": "label", "type": "nominal", "axis": null, "scale": {"type": "point", "padding": 0.5, "domain": ["Di Bella CM, et al. 2020","Lee JS, et al. 2018"," ","Random effects model","Heterogeneity: I² = 0%, p = 0.61"]}}, "text": {"field": "weight", "type": "quantitative", "format": ".1%"}},
 "layer": [
  {"transform": [{"filter": "datum.type === 'study'"}], "mark": {"type": "text", "align": "right", "baseline": "middle", "x": "width", "fontSize": 37.6, "color": "black"}},
  {"transform": [{"filter": "datum.type === 'model'"}], "mark": {"type": "text", "align": "right", "baseline": "middle", "x": "width", "fontSize": 37.6, "fontWeight": "bold", "color": "black"}}
 ]}
],
"spacing": 0, "bounds": "flush"
}
],
"spacing": 12.55, "bounds": "full", "resolve": {"scale": {"size": "independent"}}
}
],
"spacing": 18.45, "bounds": "full", "resolve": {"scale": {"size": "independent"}}
}
],
"spacing": 20.1,
"bounds": "full",
"resolve": {"scale": {"size": "independent"}}
}
